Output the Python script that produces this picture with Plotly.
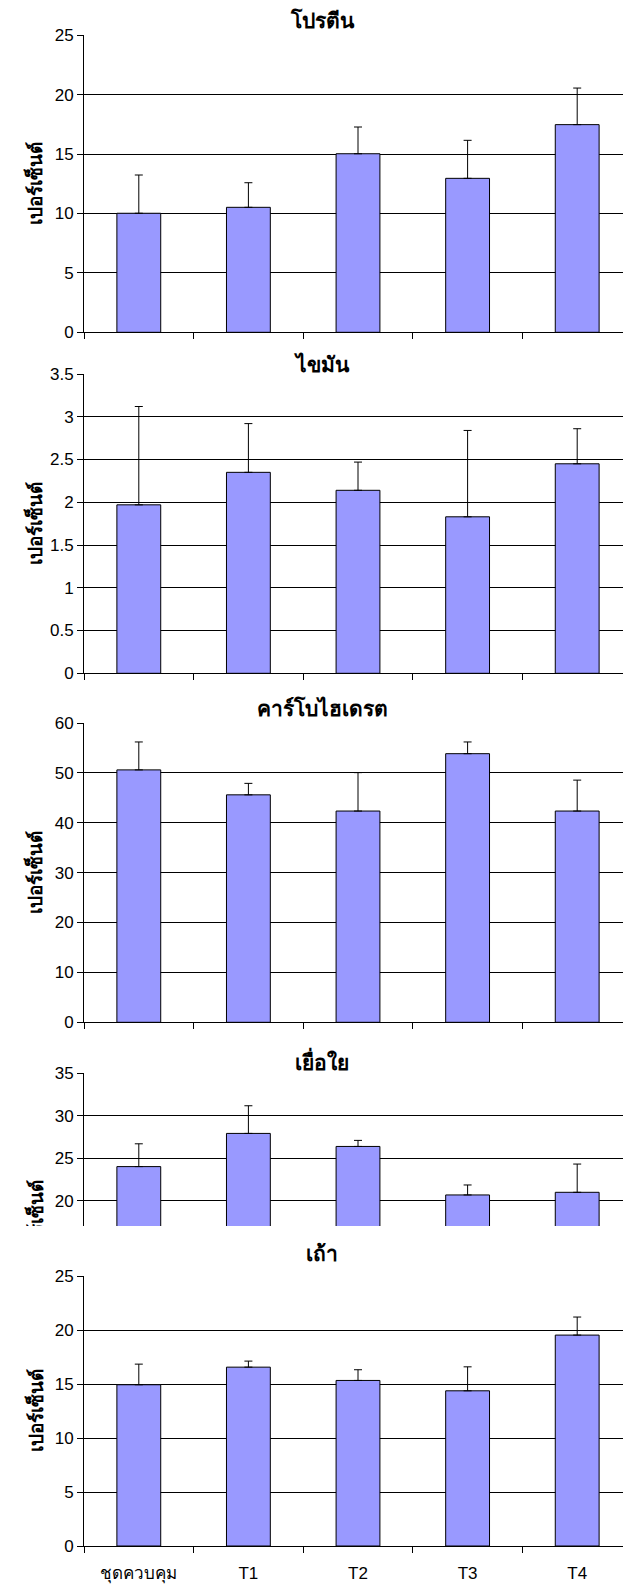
import plotly.graph_objects as go

categories = ["ชุดควบคุม", "T1", "T2", "T3", "T4"]
panel_titles = ["โปรตีน", "ไขมัน", "คาร์โบไฮเดรต", "เยื่อใย", "เถ้า"]
y_label = "เปอร์เซ็นต์"

protein = [10.02, 10.52, 15.03, 12.96, 17.48]
protein_err = [3.22, 2.07, 2.25, 3.20, 3.08]
fat = [1.97, 2.35, 2.14, 1.83, 2.45]
fat_err = [1.15, 0.57, 0.33, 1.01, 0.41]
carb = [50.6, 45.6, 42.35, 53.85, 42.35]
carb_err = [5.6, 2.3, 7.7, 2.35, 6.2]
fiber = [24.0, 27.9, 26.37, 20.67, 20.98]
fiber_err = [2.68, 3.25, 0.71, 1.17, 3.32]
ash = [14.93, 16.56, 15.33, 14.37, 19.53]
ash_err = [1.91, 0.56, 0.99, 2.22, 1.67]

y_ranges = [[0, 25], [0, 3.5], [0, 60], [17.02, 35], [0, 25]]
y_dticks = [5, 0.5, 10, 5, 5]

W, H = 623, 1588
FONT = "Liberation Sans, Arial, Noto Sans, sans-serif"

# panel pixel geometry (top, bottom)
panels_px = [(35.3, 332.3), (374, 673.3), (723, 1022.3), (1073, 1226), (1276, 1546)]
title_y_px = [20, 364, 708, 1060, 1253]
x_left_px = 84
cat_w_px = 109.6

def py(px):
    return 1 - px / H

series = [protein, fat, carb, fiber, ash]
errs = [protein_err, fat_err, carb_err, fiber_err, ash_err]

fig = go.Figure()
layout = dict(
    width=W, height=H,
    margin=dict(l=0, r=0, t=0, b=0, pad=0, autoexpand=False),
    paper_bgcolor="white", plot_bgcolor="rgba(0,0,0,0)",
    showlegend=False, font=dict(family=FONT, color="black", size=17),
    annotations=[],
)

x_right = -0.5 + (W - x_left_px) / cat_w_px

for i in range(5):
    n = "" if i == 0 else str(i + 1)
    fig.add_trace(go.Bar(
        x=categories, y=series[i], xaxis="x" + n, yaxis="y" + n,
        width=0.4,
        marker=dict(color="#9999FF", line=dict(color="black", width=1)),
        error_y=dict(type="data", symmetric=False, array=errs[i],
                     arrayminus=[0] * 5, color="black", thickness=1, width=4),
    ))
    top, bot = panels_px[i]
    last = (i == 4)
    cropped = (i == 3)
    layout["xaxis" + n] = dict(
        domain=[x_left_px / W, 1], anchor="y" + n, type="category",
        categoryorder="array", categoryarray=categories,
        range=[-0.5, x_right], tickson="boundaries", automargin=False,
        showline=not cropped, linecolor="black", linewidth=1,
        ticks="" if cropped else "outside", ticklen=6, tickcolor="black",
        showticklabels=last, tickfont=dict(size=17, family=FONT),
        ticklabelstandoff=12,
        showgrid=False, zeroline=False, fixedrange=True,
    )
    layout["yaxis" + n] = dict(
        domain=[py(bot), py(top)], anchor="x" + n, automargin=False,
        range=y_ranges[i], dtick=y_dticks[i],
        showline=True, linecolor="black", linewidth=1,
        ticks="outside", ticklen=6, tickcolor="black",
        showgrid=True, gridcolor="black", gridwidth=1,
        zeroline=False, tickfont=dict(size=17, family=FONT),
    )
    layout["annotations"].append(dict(
        text="<b>" + panel_titles[i] + "</b>", xref="paper", yref="paper",
        x=322 / W, y=py(title_y_px[i]), showarrow=False,
        xanchor="center", yanchor="middle", font=dict(size=21, family=FONT),
    ))
    if not cropped:
        layout["annotations"].append(dict(
            text="<b>" + y_label + "</b>", xref="paper", yref="paper",
            x=35 / W, y=py((top + bot) / 2), showarrow=False, textangle=-90,
            xanchor="center", yanchor="middle", font=dict(size=19, family=FONT),
        ))

# cropped y-axis label of panel 4: clipped text inside a transparent bar
top, bot = panels_px[3]
fig.add_trace(go.Bar(
    x=[35], y=[35], base=[0], xaxis="x6", yaxis="y6", width=[34],
    marker=dict(color="rgba(0,0,0,0)", line=dict(width=0)),
    text=["<b>" + y_label + "</b>"], textposition="inside",
    insidetextanchor="middle", textangle=-90, constraintext="none",
    textfont=dict(size=19, family=FONT, color="black"), cliponaxis=True,
    hoverinfo="skip",
))
layout["xaxis6"] = dict(domain=[0, 80 / W], anchor="y6", range=[0, 80],
                        visible=False, fixedrange=True, automargin=False)
layout["yaxis6"] = dict(domain=[py(bot), py(top)], anchor="x6",
                        range=y_ranges[3], visible=False, fixedrange=True,
                        automargin=False)

fig.update_layout(**layout)

page_fix = (
    "document.documentElement.style.margin='0';"
    "document.documentElement.style.overflow='hidden';"
    "document.body.style.margin='0';"
    "document.body.style.overflow='hidden';"
    "var d=document.getElementById('{plot_id}');"
    "d.style.position='fixed';d.style.top='0px';d.style.left='0px';"
)
fig.write_html("out.html", config={"displayModeBar": False}, post_script=page_fix)
